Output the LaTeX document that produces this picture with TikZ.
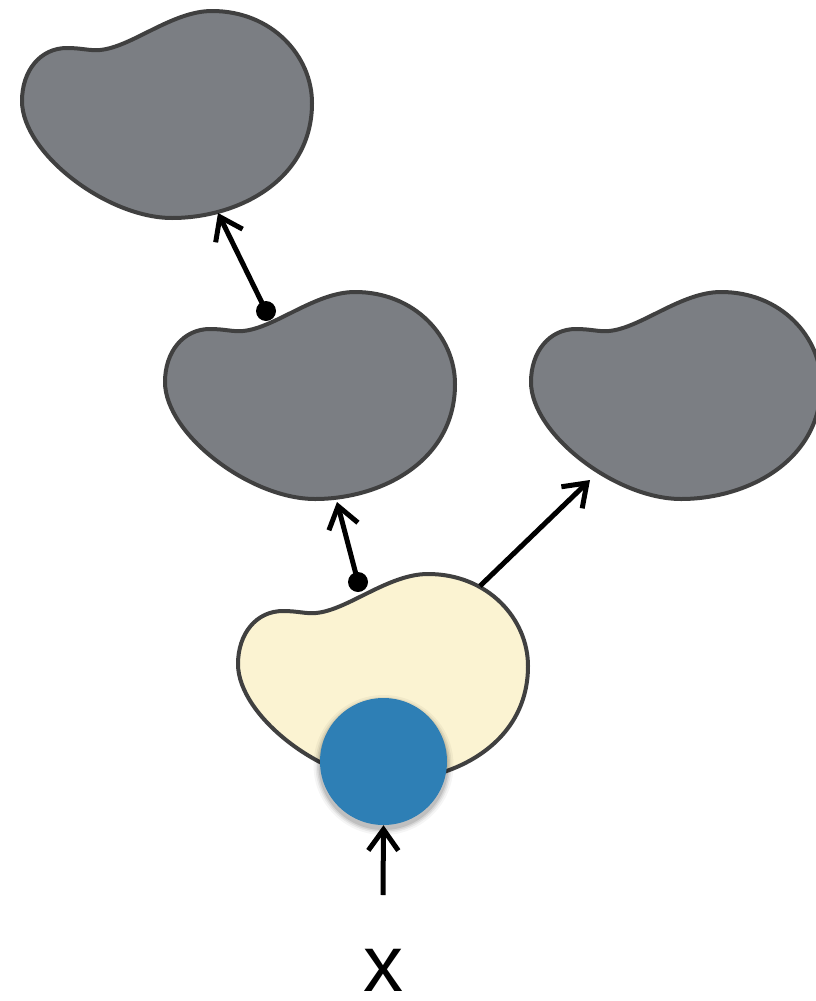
\documentclass[tikz,border=0pt]{standalone}
\usepackage{fontspec}
\setmainfont{Liberation Sans}
\usetikzlibrary{arrows.meta}
\definecolor{blobgray}{HTML}{7B7E83}
\definecolor{blobedge}{HTML}{404040}
\definecolor{blobyellow}{HTML}{FBF3D2}
\definecolor{inblue}{HTML}{2E7FB5}
\tikzset{
  blob/.style={draw=blobedge, line width=4pt, line join=round},
  conn/.style={line width=5pt, -{Straight Barb[length=21pt,width=30pt]}},
  dotnode/.style={circle, fill=black, inner sep=0pt, minimum size=20pt},
  inputnode/.style={circle, fill=inblue, inner sep=0pt, minimum size=127pt},
  labelnode/.style={font=\fontsize{80}{80}\selectfont, inner sep=0pt, anchor=center},
}
\newcommand{\blobshape}{(0,90) .. controls (0,60) and (18,37) .. (45,37)
  .. controls (60,37) and (68,40) .. (78,39)
  .. controls (110,36) and (150,0) .. (190,0)
  .. controls (250,0) and (290,45) .. (290,92)
  .. controls (290,170) and (215,207) .. (150,207)
  .. controls (85,207) and (0,142) .. (0,90) -- cycle}
\begin{document}
\begin{tikzpicture}[x=1pt,y=-1pt]
\useasboundingbox (0,0) rectangle (816,1001);
\clip (0,0) rectangle (816,1001);
% blobs
\draw[blob, fill=blobgray, shift={(22,11)}] \blobshape;
\draw[blob, fill=blobgray, shift={(165,292)}] \blobshape;
\draw[blob, fill=blobgray, shift={(531,292)}] \blobshape;
\draw[blob, fill=blobyellow, shift={(238,574)}] \blobshape;
% input circle with soft shadow
\foreach \r/\o in {70/0.04,68/0.06,66.5/0.08,65/0.10}
  \fill[black, opacity=\o] (383.5,765) circle[radius=\r];
\node[inputnode] (inp) at (383.5,761.5) {};
% attachment points
\node[dotnode] (d1) at (266,311) {};
\node[dotnode] (d2) at (358,582) {};
\coordinate (t1) at (218,213);
\coordinate (t2) at (337,502);
\coordinate (s3) at (480,586);
\coordinate (t3) at (590,480);
\coordinate (s4) at (383,895);
% connectors
\draw[conn] (d1.center) -- (t1);
\draw[conn] (d2.center) -- (t2);
\draw[conn] (s3) -- (t3);
\draw[conn] (s4) -- (inp.south);
% label
\node[labelnode] (xl) at (383,970) {x};
\end{tikzpicture}
\end{document}
